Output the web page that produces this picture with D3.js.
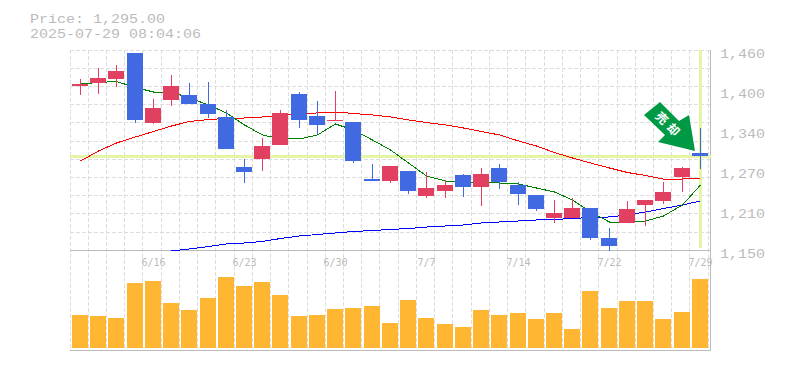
<!DOCTYPE html>
<html>
<head>
<meta charset="utf-8">
<style>
html,body{margin:0;padding:0;background:#fff;}
svg{display:block;}
text{font-family:"Liberation Mono","DejaVu Sans Mono",monospace;fill:#bbb;}
</style>
<script src="https://cdn.jsdelivr.net/npm/d3@7/dist/d3.min.js"></script>
</head>
<body>
<div id="chart"></div>
<script>
const titleLines = ["Price: 1,295.00", "2025-07-29 08:04:06"];
const currentPrice = 1295;
const dates = ["6/10","6/11","6/12","6/13","6/16","6/17","6/18","6/19","6/20","6/23","6/24","6/25","6/26","6/27","6/30","7/1","7/2","7/3","7/4","7/7","7/8","7/9","7/10","7/11","7/14","7/15","7/16","7/17","7/18","7/22","7/23","7/24","7/25","7/28","7/29"];
const dateLabels = ["6/16","6/23","6/30","7/7","7/14","7/22","7/29"];
const open  = [1404,1409,1415,1455,1347,1383,1390,1376,1356,1279,1291,1313,1392,1358,1351,1348,1260,1257,1272,1234,1241,1266,1248,1277,1251,1235,1200,1200,1215,1169,1192,1220,1226,1263,1301];
const high  = [1415,1432,1437,1455,1384,1421,1409,1410,1367,1291,1324,1367,1395,1381,1396,1348,1283,1280,1272,1271,1259,1268,1277,1283,1255,1235,1228,1231,1215,1184,1226,1228,1255,1279,1339];
const low   = [1390,1392,1403,1347,1345,1373,1376,1355,1307,1254,1272,1313,1339,1330,1350,1285,1257,1254,1237,1231,1231,1232,1218,1245,1220,1210,1192,1200,1166,1148,1192,1187,1221,1240,1276];
const close = [1407,1417,1427,1352,1370,1404,1376,1361,1307,1271,1311,1362,1352,1344,1352,1288,1257,1280,1241,1246,1251,1248,1268,1255,1237,1214,1207,1215,1169,1156,1214,1228,1240,1277,1295];
const volume = [33,32,30,65,67,45,38,50,71,62,66,53,32,33,39,40,42,25,48,30,24,21,38,33,35,29,35,19,57,40,47,47,29,36,69];
const maShort = [1407.3,1409.6,1411.2,1401.9,1394.9,1394.9,1385.6,1374.8,1362.4,1343.8,1328.3,1322.1,1322.1,1328.3,1345.3,1336,1320.5,1305,1284.9,1264.7,1257,1255.4,1253.9,1253.9,1252.3,1246.1,1239.9,1227.5,1208.9,1193.4,1193.4,1195,1202.7,1219.8,1250.8];
const maMid = [1288,1303.4,1315.9,1325.2,1333.7,1342.2,1349.2,1352.3,1353.8,1354.6,1356.2,1358.5,1361.6,1362.4,1363.9,1361.6,1359.3,1356.2,1351.5,1347.6,1343.8,1339.1,1333.7,1328.3,1319,1311.2,1301.1,1292.6,1284.9,1277.1,1270.1,1265.5,1260,1260,1261.6];
const maLong = [null,null,null,null,null,1148.5,1151.6,1155.4,1159.3,1160.9,1163.2,1167.8,1171.7,1174,1176.4,1178.7,1180.2,1181.8,1183.3,1185.6,1187.2,1188.8,1191.9,1193.4,1195,1196.5,1197.3,1198.8,1200.4,1201.2,1204.3,1208.9,1214.3,1219.8,1226];
const priceTicks = [1460,1398,1336,1274,1212,1150];
const priceTickLabels = ["1,460","1,400","1,340","1,270","1,210","1,150"];
const gridRows = d3.range(12);
const arrowLabel = ["売","却"];

const C = {grid:"#ddd", frame:"#bbb", hi:"#e4f5a8", up:"#e24060", down:"#4169e1", vol:"#ffb733",
           short:"#008000", mid:"#ff0000", long:"#0000ff", arrow:"#009944"};
const W = 785, H = 370;
const svg = d3.select("#chart").append("svg").attr("width",W).attr("height",H);
const step = 18.235, bandLeft = 72.4, gridOffset = 2.4;
const x = d3.scaleBand().domain(dates).range([bandLeft, bandLeft + step*dates.length]);
const y = d3.scaleLinear().domain([1150,1460]).range([250,50]);
const yV = d3.scaleLinear().domain([0,98]).range([348,250]);
const bodyL = d => Math.floor(x(d));
const mid = d => bodyL(d) + 8.5;

// grid
const g = svg.append("g").attr("stroke",C.grid).attr("stroke-dasharray","4,2").attr("fill","none");
const gridX = dates.map(d => Math.floor(x(d)-gridOffset)+0.5);
gridX.push(Math.floor(bandLeft - gridOffset + step*dates.length)+0.5);
g.selectAll(".gv").data(gridX).join("line").attr("x1",d=>d).attr("x2",d=>d).attr("y1",50).attr("y2",350);
g.selectAll(".gh").data(gridRows).join("line")
  .attr("x1",70).attr("x2",710)
  .attr("y1",k=>Math.floor(50+k*200/11+0.2)+0.5).attr("y2",k=>Math.floor(50+k*200/11+0.2)+0.5);

// frame
const f = svg.append("g").attr("stroke",C.frame).attr("fill","none");
f.append("line").attr("x1",70).attr("x2",711).attr("y1",250.5).attr("y2",250.5);
f.append("line").attr("x1",70).attr("x2",711).attr("y1",350.5).attr("y2",350.5);
f.append("line").attr("x1",710.5).attr("x2",710.5).attr("y1",50).attr("y2",351);

// current price / current date highlight
svg.append("rect").attr("x",70).attr("width",641).attr("y",Math.floor(y(currentPrice))-1).attr("height",3).attr("fill",C.hi);
svg.append("rect").attr("x",bodyL(dates[dates.length-1])+7).attr("width",3).attr("y",50).attr("height",198).attr("fill",C.hi);

// date labels
svg.append("g").selectAll("text").data(dateLabels).join("text")
  .attr("x",d=>mid(d)).attr("y",266).attr("text-anchor","middle").attr("font-size",10)
  .style("font-family",'"DejaVu Sans Mono"').text(d=>d);

// volume
svg.append("g").selectAll("rect").data(dates).join("rect")
  .attr("x",d=>bodyL(d)).attr("width",16)
  .attr("y",(d,i)=>Math.round(yV(volume[i]))).attr("height",(d,i)=>348-Math.round(yV(volume[i])))
  .attr("fill",C.vol);

// moving averages
const line = d3.line().defined(d=>d[1]!=null).x(d=>mid(d[0])).y(d=>y(d[1]));
[[maLong,C.long],[maMid,C.mid],[maShort,C.short]].forEach(([s,c])=>{
  svg.append("path").datum(dates.map((d,i)=>[d,s[i]])).attr("d",line)
    .attr("fill","none").attr("stroke",c).attr("stroke-width",1).attr("shape-rendering","crispEdges");
});

// candles
const candles = svg.append("g").selectAll("g").data(dates).join("g")
  .attr("fill",(d,i)=>close[i]>=open[i]?C.up:C.down);
candles.append("rect").attr("x",d=>bodyL(d)+8).attr("width",1)
  .attr("y",(d,i)=>Math.round(y(high[i]))).attr("height",(d,i)=>Math.max(1,Math.round(y(low[i]))-Math.round(y(high[i]))));
candles.append("rect").attr("x",d=>bodyL(d)).attr("width",16)
  .attr("y",(d,i)=>Math.round(y(Math.max(open[i],close[i]))))
  .attr("height",(d,i)=>Math.max(1,Math.round(y(Math.min(open[i],close[i])))-Math.round(y(Math.max(open[i],close[i])))));

// signal arrow
svg.append("path").attr("fill",C.arrow)
  .attr("d",d3.line()([[660,102],[644,115],[665,135],[658,142],[695,151],[689,115],[679,121]]));
svg.append("g").selectAll("text").data(arrowLabel).join("text")
  .attr("transform",(d,i)=>`translate(${662+i*11.5},${118+i*11.5}) rotate(45)`)
  .attr("text-anchor","middle").attr("dy","0.38em")
  .style("font-family",'"Noto Sans CJK JP"').style("fill","#fff").style("font-weight",700)
  .attr("font-size",12).text(d=>d);

// monospaced labels stretched to the reference's 9px character cell
const wide = sel => sel.attr("font-size",13.5).attr("textLength",d=>0).each(function(){
  this.setAttribute("textLength", this.textContent.length*9);
  this.setAttribute("lengthAdjust","spacingAndGlyphs");
});

// price axis labels
svg.append("g").selectAll("text").data(priceTicks).join("text")
  .attr("x",720).attr("y",d=>y(d)+7.5).text((d,i)=>priceTickLabels[i]).call(wide);

// title
svg.append("g").selectAll("text").data(titleLines).join("text")
  .attr("x",30).attr("y",(d,i)=>22.7+i*15.5).text(d=>d).call(wide);
</script>
</body>
</html>
